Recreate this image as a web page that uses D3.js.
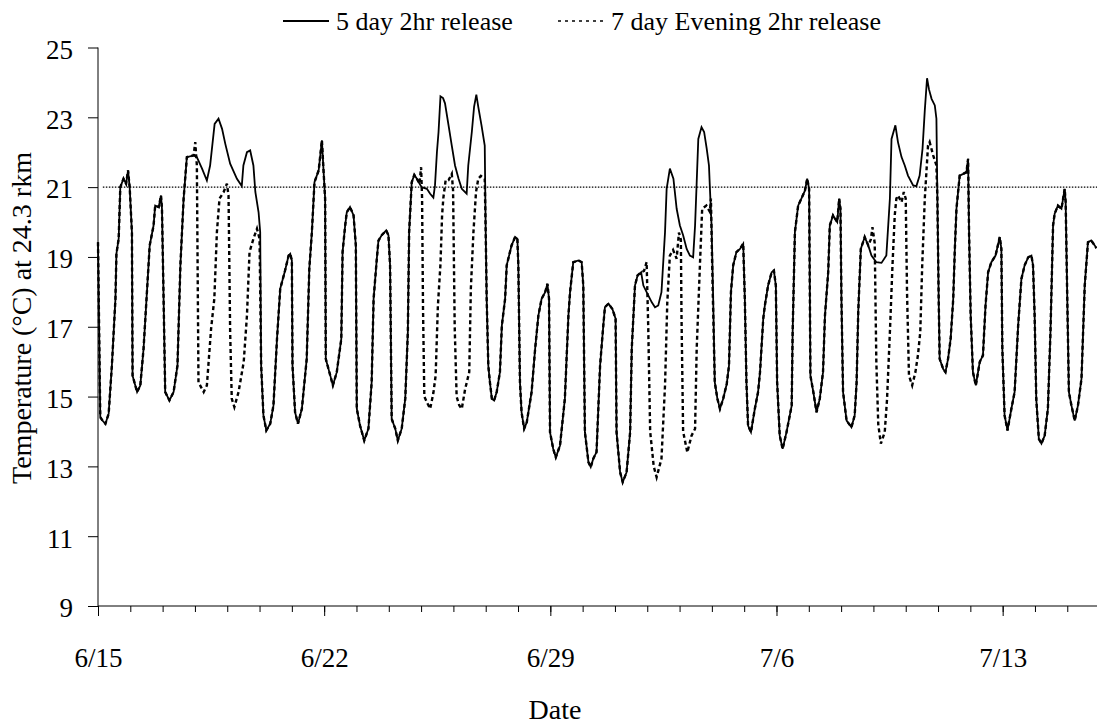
<!DOCTYPE html>
<html>
<head>
<meta charset="utf-8">
<script src="https://cdn.jsdelivr.net/npm/d3@7"></script>
<style>
body { margin: 0; background: #fff; }
text { font-family: "Liberation Serif", "Times New Roman", serif; fill: #000; }
</style>
</head>
<body>
<div class="chart"></div>
<script>
// readings: [days since 6/15 00:00, temperature C]
var startDate = new Date(2002, 5, 15);
var endDay = 30.92;

var fiveDay = [
[0.0,19.42],[0.07,14.41],[0.15,14.3],[0.23,14.22],[0.33,14.51],[0.43,15.89],[0.54,17.8],[0.57,19.09],[0.64,19.52],[0.69,21.0],[0.79,21.24],[0.87,21.1],[0.93,21.48],[0.98,21.0],[1.05,19.71],[1.07,15.6],[1.21,15.13],[1.31,15.32],[1.41,16.37],[1.6,19.33],[1.72,19.9],[1.77,20.47],[1.88,20.43],[1.95,20.76],[1.98,20.38],[2.03,17.8],[2.08,15.13],[2.21,14.89],[2.34,15.13],[2.46,15.89],[2.55,18.76],[2.65,20.67],[2.75,21.86],[2.96,21.91],[3.06,21.86],[3.22,21.53],[3.37,21.19],[3.47,21.62],[3.61,22.81],[3.73,22.96],[3.84,22.67],[3.94,22.24],[4.09,21.67],[4.3,21.24],[4.45,21.03],[4.5,21.62],[4.61,22.0],[4.71,22.05],[4.81,21.62],[4.87,20.86],[4.97,20.28],[5.02,19.71],[5.05,15.89],[5.12,14.46],[5.21,14.03],
[5.33,14.22],[5.43,14.74],[5.54,16.65],[5.64,18.09],[5.79,18.61],[5.9,19.04],[5.95,19.09],[6.0,18.9],[6.02,15.89],[6.1,14.55],[6.19,14.22],[6.31,14.65],[6.46,16.08],[6.54,18.66],[6.62,19.71],[6.7,21.14],[6.83,21.48],[6.93,22.34],[6.98,21.48],[7.03,20.67],[7.05,16.08],[7.19,15.6],[7.27,15.32],[7.39,15.7],[7.53,16.65],[7.57,19.14],[7.65,19.9],[7.7,20.28],[7.8,20.43],[7.91,20.19],[7.98,19.33],[8.01,14.65],[8.11,14.17],[8.24,13.74],[8.37,14.08],[8.47,15.41],[8.53,17.8],[8.63,18.95],[8.68,19.47],[8.78,19.62],[8.92,19.76],[8.99,19.62],[9.04,18.76],[9.09,14.36],[9.2,14.08],[9.28,13.74],[9.4,14.08],[9.51,14.94],[9.59,16.85],[9.63,19.71],[9.71,21.14],[9.79,21.35],[9.87,21.24],[9.95,21.1],
[10.02,21.0],[10.18,20.95],[10.28,20.81],[10.38,20.7],[10.43,21.05],[10.49,22.0],[10.54,22.58],[10.6,23.6],[10.68,23.55],[10.74,23.4],[10.85,22.77],[10.95,22.19],[11.05,21.62],[11.16,21.24],[11.26,20.95],[11.41,20.81],[11.46,21.62],[11.57,22.58],[11.64,23.3],[11.71,23.65],[11.77,23.3],[11.87,22.77],[11.97,22.19],[12.0,19.7],[12.03,17.8],[12.08,15.89],[12.13,15.41],[12.19,14.94],[12.26,14.89],[12.34,15.13],[12.44,15.7],[12.5,17.04],[12.6,17.8],[12.65,18.76],[12.75,19.14],[12.8,19.33],[12.91,19.57],[12.98,19.52],[13.01,18.76],[13.06,15.41],[13.11,14.55],[13.19,14.08],[13.27,14.26],[13.42,15.13],[13.53,16.37],[13.63,17.32],[13.73,17.8],[13.84,17.99],[13.91,18.23],[13.96,17.8],[13.99,13.98],[14.09,13.5],[14.17,13.26],[14.3,13.6],[14.45,14.94],[14.56,17.32],[14.61,17.99],[14.71,18.85],[14.87,18.9],[14.97,18.85],[15.02,18.18],[15.07,13.98],[15.18,13.12],[15.25,12.98],[15.33,13.22],
[15.43,13.41],[15.54,15.89],[15.64,17.04],[15.69,17.56],[15.8,17.66],[15.92,17.51],[16.02,17.23],[16.05,13.98],[16.16,12.83],[16.24,12.55],[16.36,12.83],[16.47,13.98],[16.52,16.37],[16.62,18.18],[16.7,18.47],[16.81,18.56],[16.88,18.18],[17.03,17.9],[17.14,17.7],[17.24,17.56],[17.34,17.61],[17.44,17.99],[17.55,19.71],[17.6,20.95],[17.7,21.53],[17.81,21.24],[17.91,20.38],[18.01,19.9],[18.11,19.62],[18.22,19.23],[18.32,19.04],[18.42,18.99],[18.48,19.9],[18.53,21.14],[18.58,22.38],[18.68,22.72],[18.76,22.58],[18.84,22.1],[18.91,21.62],[18.94,20.95],[18.99,19.9],[19.04,17.8],[19.09,15.41],[19.17,14.94],[19.25,14.65],[19.35,14.94],[19.46,15.36],[19.53,15.89],[19.59,17.99],[19.66,18.76],[19.76,19.14],[19.87,19.23],[19.97,19.38],[20.02,17.8],[20.07,15.41],[20.12,14.17],[20.21,13.98],[20.33,14.65],[20.43,15.13],
[20.49,15.7],[20.59,17.23],[20.64,17.61],[20.74,18.18],[20.85,18.56],[20.92,18.61],[20.98,18.18],[21.02,15.41],[21.1,13.88],[21.19,13.5],[21.31,13.98],[21.47,14.74],[21.5,16.85],[21.57,19.71],[21.67,20.47],[21.77,20.67],[21.88,20.9],[21.95,21.24],[22.01,20.95],[22.03,18.28],[22.05,15.6],[22.14,15.13],[22.24,14.55],[22.34,14.94],[22.44,15.7],[22.5,17.32],[22.6,18.56],[22.65,19.9],[22.75,20.19],[22.88,20.0],[22.94,20.67],[22.98,20.38],[23.01,17.8],[23.06,15.13],[23.17,14.31],[23.32,14.12],[23.42,14.46],[23.48,15.41],[23.53,17.42],[23.61,19.23],[23.73,19.57],[23.84,19.33],[23.94,19.04],[24.09,18.85],[24.25,18.83],[24.4,19.04],[24.51,20.67],[24.56,22.38],[24.68,22.77],[24.76,22.29],[24.87,21.86],[24.97,21.62],[25.07,21.33],[25.23,21.05],[25.33,21.03],[25.43,21.33],[25.52,22.1],[25.59,23.2],
[25.66,24.12],[25.72,23.8],[25.8,23.53],[25.9,23.34],[25.95,22.96],[25.98,20.67],[26.02,17.8],[26.05,16.08],[26.16,15.79],[26.23,15.7],[26.31,16.08],[26.39,16.65],[26.47,17.8],[26.52,19.23],[26.57,20.38],[26.67,21.33],[26.78,21.38],[26.88,21.43],[26.93,21.81],[26.96,19.71],[27.01,17.32],[27.08,15.7],[27.17,15.32],[27.29,15.99],[27.39,16.18],[27.47,17.61],[27.55,18.56],[27.65,18.85],[27.78,19.04],[27.91,19.57],[27.96,19.23],[27.99,16.37],[28.06,14.46],[28.15,14.03],[28.27,14.65],[28.37,15.13],[28.48,17.04],[28.58,18.37],[28.68,18.76],[28.79,18.99],[28.89,19.04],[28.94,18.76],[28.99,17.32],[29.04,14.94],[29.12,13.79],[29.2,13.65],[29.3,13.88],[29.4,14.65],[29.48,16.85],[29.56,19.9],[29.61,20.24],[29.71,20.47],[29.82,20.38],[29.92,20.95],[29.95,20.57],[30.0,17.8],[30.05,15.13],[30.13,14.74],[30.23,14.31],[30.33,14.74],[30.44,15.51],[30.49,16.85],[30.54,18.18],[30.64,19.42],[30.74,19.47],[30.85,19.33],[30.9,19.25]
];

var sevenDayEvening = [
[0.0,19.42],[0.07,14.41],[0.15,14.3],[0.23,14.22],[0.33,14.51],[0.43,15.89],[0.54,17.8],[0.57,19.09],[0.64,19.52],[0.69,21.0],[0.79,21.24],[0.87,21.1],[0.93,21.48],[0.98,21.0],[1.05,19.71],[1.07,15.6],[1.21,15.13],[1.31,15.32],[1.41,16.37],[1.6,19.33],[1.72,19.9],[1.77,20.47],[1.88,20.43],[1.95,20.76],[1.98,20.38],[2.03,17.8],[2.08,15.13],[2.21,14.89],[2.34,15.13],[2.46,15.89],[2.55,18.76],[2.65,20.67],[2.75,21.86],[2.96,21.91],[3.01,22.29],[3.06,21.62],[3.11,15.41],[3.27,15.13],[3.37,15.32],[3.5,16.94],[3.6,17.8],[3.68,19.71],[3.76,20.67],[3.89,20.86],[3.99,21.1],[4.04,20.76],[4.09,16.85],[4.14,14.94],[4.22,14.7],[4.35,15.13],[4.51,15.99],[4.61,17.32],[4.69,19.14],[4.81,19.52],[4.92,19.81],[5.0,19.52],[5.05,15.89],[5.12,14.46],[5.21,14.03],
[5.33,14.22],[5.43,14.74],[5.54,16.65],[5.64,18.09],[5.79,18.61],[5.9,19.04],[5.95,19.09],[6.0,18.9],[6.02,15.89],[6.1,14.55],[6.19,14.22],[6.31,14.65],[6.46,16.08],[6.54,18.66],[6.62,19.71],[6.7,21.14],[6.83,21.48],[6.93,22.34],[6.98,21.48],[7.03,20.67],[7.05,16.08],[7.19,15.6],[7.27,15.32],[7.39,15.7],[7.53,16.65],[7.57,19.14],[7.65,19.9],[7.7,20.28],[7.8,20.43],[7.91,20.19],[7.98,19.33],[8.01,14.65],[8.11,14.17],[8.24,13.74],[8.37,14.08],[8.47,15.41],[8.53,17.8],[8.63,18.95],[8.68,19.47],[8.78,19.62],[8.92,19.76],[8.99,19.62],[9.04,18.76],[9.09,14.36],[9.2,14.08],[9.28,13.74],[9.4,14.08],[9.51,14.94],[9.59,16.85],[9.63,19.71],[9.71,21.14],[9.79,21.35],[9.87,21.24],[9.95,21.1],
[10.0,21.57],[10.03,20.7],[10.06,17.5],[10.1,15.0],[10.2,14.8],[10.28,14.65],[10.38,15.1],[10.45,15.6],[10.52,17.6],[10.6,18.8],[10.65,20.2],[10.69,20.7],[10.76,21.2],[10.85,21.2],[10.95,21.38],[10.99,20.9],[11.04,17.0],[11.1,15.0],[11.18,14.75],[11.26,14.65],[11.36,15.2],[11.49,15.7],[11.54,18.09],[11.62,19.71],[11.7,20.86],[11.77,21.24],[11.85,21.32],[11.97,21.24],[12.0,19.7],[12.03,17.8],[12.08,15.89],[12.13,15.41],[12.19,14.94],[12.26,14.89],[12.34,15.13],[12.44,15.7],[12.5,17.04],[12.6,17.8],[12.65,18.76],[12.75,19.14],[12.8,19.33],[12.91,19.57],[12.98,19.52],[13.01,18.76],[13.06,15.41],[13.11,14.55],[13.19,14.08],[13.27,14.26],[13.42,15.13],[13.53,16.37],[13.63,17.32],[13.73,17.8],[13.84,17.99],[13.91,18.23],[13.96,17.8],[13.99,13.98],[14.09,13.5],[14.17,13.26],[14.3,13.6],[14.45,14.94],[14.56,17.32],[14.61,17.99],[14.71,18.85],[14.87,18.9],[14.97,18.85],[15.02,18.18],[15.07,13.98],[15.18,13.12],[15.25,12.98],[15.33,13.22],
[15.43,13.41],[15.54,15.89],[15.64,17.04],[15.69,17.56],[15.8,17.66],[15.92,17.51],[16.02,17.23],[16.05,13.98],[16.16,12.83],[16.24,12.55],[16.36,12.83],[16.47,13.98],[16.52,16.37],[16.62,18.18],[16.7,18.47],[16.81,18.56],[16.9,18.6],[16.98,18.85],[17.03,17.0],[17.09,14.0],[17.2,13.0],[17.29,12.69],[17.44,13.22],[17.55,15.32],[17.62,17.7],[17.7,19.04],[17.8,19.2],[17.91,18.95],[17.98,19.7],[18.04,19.5],[18.06,17.3],[18.11,14.0],[18.24,13.4],[18.37,13.88],[18.48,14.08],[18.53,16.37],[18.63,18.76],[18.7,20.38],[18.83,20.47],[18.94,20.29],[18.97,20.67],[19.02,18.3],[19.09,15.41],[19.17,14.94],[19.25,14.65],[19.35,14.94],[19.46,15.36],[19.53,15.89],[19.59,17.99],[19.66,18.76],[19.76,19.14],[19.87,19.23],[19.97,19.38],[20.02,17.8],[20.07,15.41],[20.12,14.17],[20.21,13.98],[20.33,14.65],[20.43,15.13],
[20.49,15.7],[20.59,17.23],[20.64,17.61],[20.74,18.18],[20.85,18.56],[20.92,18.61],[20.98,18.18],[21.02,15.41],[21.1,13.88],[21.19,13.5],[21.31,13.98],[21.47,14.74],[21.5,16.85],[21.57,19.71],[21.67,20.47],[21.77,20.67],[21.88,20.9],[21.95,21.24],[22.01,20.95],[22.03,18.28],[22.05,15.6],[22.14,15.13],[22.24,14.55],[22.34,14.94],[22.44,15.7],[22.5,17.32],[22.6,18.56],[22.65,19.9],[22.75,20.19],[22.88,20.0],[22.94,20.67],[22.98,20.38],[23.01,17.8],[23.06,15.13],[23.17,14.31],[23.32,14.12],[23.42,14.46],[23.48,15.41],[23.53,17.42],[23.61,19.23],[23.73,19.57],[23.84,19.33],[23.92,19.5],[23.97,19.85],[24.04,19.4],[24.09,16.0],[24.15,14.2],[24.23,13.65],[24.35,13.98],[24.42,14.9],[24.51,16.85],[24.59,18.76],[24.66,20.19],[24.71,20.67],[24.76,20.76],[24.87,20.57],[24.94,20.86],[25.0,20.67],[25.04,18.0],[25.1,15.6],[25.2,15.32],[25.3,15.7],[25.38,16.2],[25.45,16.85],[25.51,18.76],[25.59,20.67],
[25.69,22.19],[25.74,22.29],[25.85,21.91],[25.95,21.62],[25.98,20.67],[26.02,17.8],[26.05,16.08],[26.16,15.79],[26.23,15.7],[26.31,16.08],[26.39,16.65],[26.47,17.8],[26.52,19.23],[26.57,20.38],[26.67,21.33],[26.78,21.38],[26.88,21.43],[26.93,21.81],[26.96,19.71],[27.01,17.32],[27.08,15.7],[27.17,15.32],[27.29,15.99],[27.39,16.18],[27.47,17.61],[27.55,18.56],[27.65,18.85],[27.78,19.04],[27.91,19.57],[27.96,19.23],[27.99,16.37],[28.06,14.46],[28.15,14.03],[28.27,14.65],[28.37,15.13],[28.48,17.04],[28.58,18.37],[28.68,18.76],[28.79,18.99],[28.89,19.04],[28.94,18.76],[28.99,17.32],[29.04,14.94],[29.12,13.79],[29.2,13.65],[29.3,13.88],[29.4,14.65],[29.48,16.85],[29.56,19.9],[29.61,20.24],[29.71,20.47],[29.82,20.38],[29.92,20.95],[29.95,20.57],[30.0,17.8],[30.05,15.13],[30.13,14.74],[30.23,14.31],[30.33,14.74],[30.44,15.51],[30.49,16.85],[30.54,18.18],[30.64,19.42],[30.74,19.47],[30.85,19.33],[30.9,19.25]
];

var threshold = 21;
var yTicks = [9, 11, 13, 15, 17, 19, 21, 23, 25];
var majorTickDays = [0, 7, 14, 21, 28];
var seriesNames = ["5 day 2hr release", "7 day Evening 2hr release"];

var W = 1097, H = 727;
var margin = {top: 47.5, right: 0, bottom: 121, left: 98},
    width = W - margin.left - margin.right,
    height = H - margin.top - margin.bottom;

function toDate(d) {
    return new Date(startDate.getTime() + d * 864e5);
}

var x = d3.scaleTime()
    .domain([startDate, toDate(endDay)])
    .range([0, width]);
var y = d3.scaleLinear().domain([9, 25]).range([height, 0]);

var svg = d3.select(".chart").append("svg")
    .attr("width", W)
    .attr("height", H)
    .append("g")
    .attr("transform", "translate(" + margin.left + "," + margin.top + ")");

// y axis
var yAxis = svg.append("g")
    .call(d3.axisLeft(y).tickValues(yTicks).tickSize(10).tickPadding(15));
yAxis.selectAll("text").style("font-size", "27px").attr("dy", "0.4em");
yAxis.select(".domain").attr("d", "M0,0V" + height);

// x axis: daily minor ticks, weekly labelled ticks
var dayTicks = d3.range(0, Math.floor(endDay) + 1).map(toDate);
var xMinor = svg.append("g")
    .attr("transform", "translate(0," + height + ")")
    .call(d3.axisBottom(x).tickValues(dayTicks).tickSize(6).tickFormat(""));
xMinor.select(".domain").attr("d", "M0,0H" + width);

var xMajor = svg.append("g")
    .attr("transform", "translate(0," + height + ")")
    .call(d3.axisBottom(x).tickValues(majorTickDays.map(toDate))
        .tickSize(10).tickPadding(32).tickFormat(d3.timeFormat("%-m/%-d")));
xMajor.select(".domain").remove();
xMajor.selectAll("text").style("font-size", "27px");

svg.selectAll(".domain, .tick line").attr("stroke", "#000").attr("stroke-width", 1);

// 21 C reference line
svg.append("line")
    .attr("x1", x(toDate(0.15)))
    .attr("x2", width)
    .attr("y1", y(threshold))
    .attr("y2", y(threshold))
    .attr("stroke", "#000")
    .attr("stroke-width", 1.3)
    .attr("stroke-dasharray", "1.5,1.5");

var line = d3.line()
    .x(function (d) { return x(toDate(d[0])); })
    .y(function (d) { return y(d[1]); });

svg.append("path")
    .datum(sevenDayEvening)
    .attr("fill", "none")
    .attr("stroke", "#000")
    .attr("stroke-width", 2.4)
    .attr("stroke-dasharray", "4,3")
    .attr("d", line);

svg.append("path")
    .datum(fiveDay)
    .attr("fill", "none")
    .attr("stroke", "#000")
    .attr("stroke-width", 1.8)
    .attr("d", line);

// axis titles
var root = d3.select("svg");
root.append("text")
    .attr("x", 555)
    .attr("y", 719)
    .attr("text-anchor", "middle")
    .style("font-size", "28px")
    .text("Date");

root.append("text")
    .attr("transform", "translate(31,318) rotate(-90)")
    .attr("text-anchor", "middle")
    .style("font-size", "28px")
    .text("Temperature (\u00B0C) at 24.3 rkm");

// legend
var legend = [
    {name: seriesNames[0], x: 283, dash: null},
    {name: seriesNames[1], x: 558, dash: "3,4"}
];
var lg = root.append("g").selectAll("g").data(legend).enter().append("g")
    .attr("transform", function (d) { return "translate(" + d.x + ",21)"; });
lg.append("line")
    .attr("x1", 0).attr("x2", 46)
    .attr("stroke", "#000")
    .attr("stroke-width", function (d) { return d.dash ? 1.6 : 1.8; })
    .attr("stroke-dasharray", function (d) { return d.dash; });
lg.append("text")
    .attr("x", 53)
    .attr("y", 9)
    .style("font-size", "26px")
    .text(function (d) { return d.name; });
</script>
</body>
</html>
